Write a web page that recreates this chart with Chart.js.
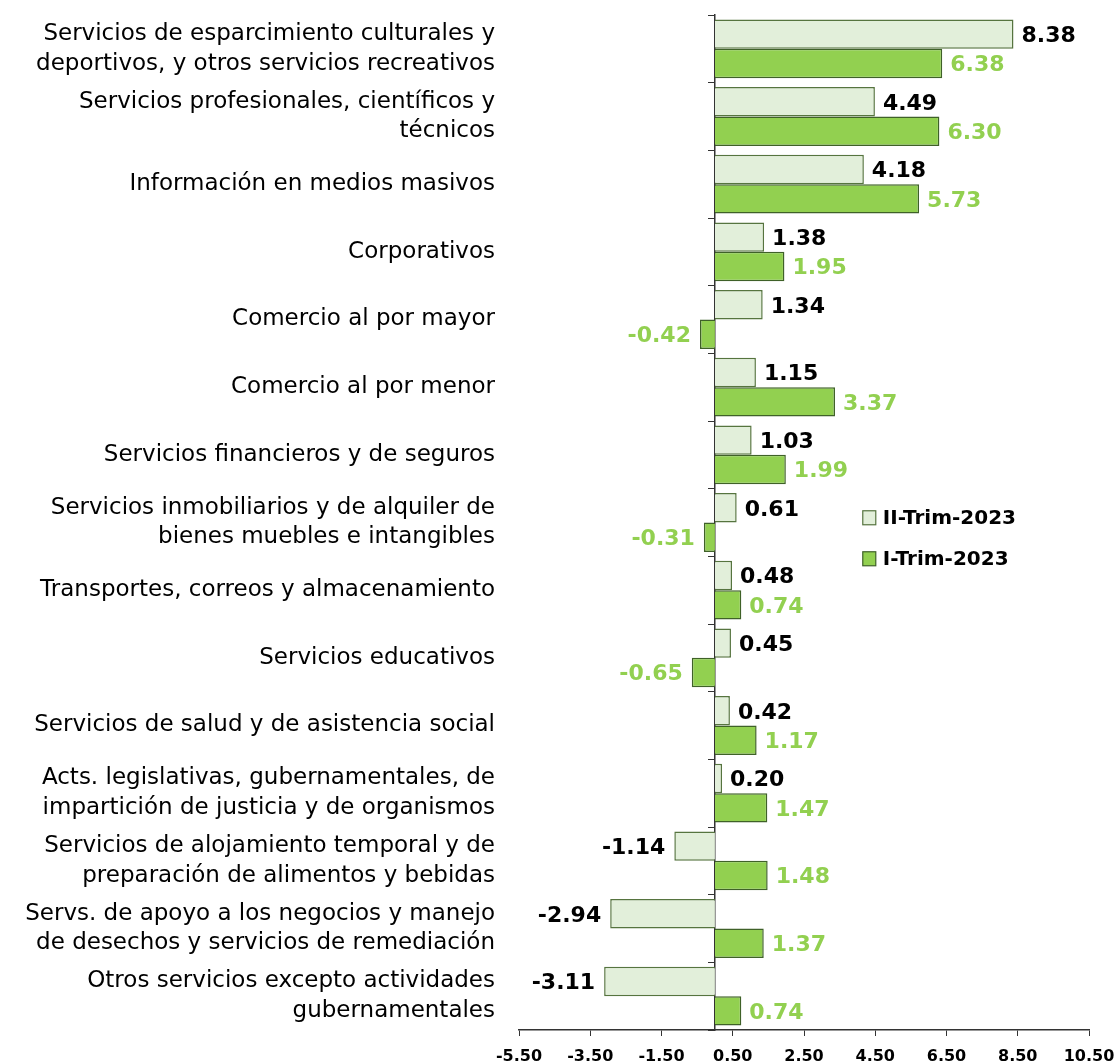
<!DOCTYPE html>
<html>
<head>
<meta charset="utf-8">
<script src="https://cdn.jsdelivr.net/npm/chart.js@4/dist/chart.umd.min.js"></script>
<style>
  html, body { margin: 0; padding: 0; background: #fff; }
  #wrap { width: 1114px; height: 1064px; position: relative; }
</style>
</head>
<body>
<div id="wrap"><canvas id="barChart"></canvas></div>
<script>
// Categories (multi-line labels as in the original)
const categories = [
    ['Servicios de esparcimiento culturales y', 'deportivos, y otros servicios recreativos'],
    ['Servicios profesionales, científicos y', 'técnicos'],
    'Información en medios masivos',
    'Corporativos',
    'Comercio al por mayor',
    'Comercio al por menor',
    'Servicios financieros y de seguros',
    ['Servicios inmobiliarios y de alquiler de', 'bienes muebles e intangibles'],
    'Transportes, correos y almacenamiento',
    'Servicios educativos',
    'Servicios de salud y de asistencia social',
    ['Acts. legislativas, gubernamentales, de', 'impartición de justicia y de organismos'],
    ['Servicios de alojamiento temporal y de', 'preparación de alimentos y bebidas'],
    ['Servs. de apoyo a los negocios y manejo', 'de desechos y servicios de remediación'],
    ['Otros servicios excepto actividades', 'gubernamentales']
];

// Series values
const trim2Values = [8.38, 4.49, 4.18, 1.38, 1.34, 1.15, 1.03, 0.61, 0.48, 0.45, 0.42, 0.20, -1.14, -2.94, -3.11];
const trim1Values = [6.38, 6.30, 5.73, 1.95, -0.42, 3.37, 1.99, -0.31, 0.74, -0.65, 1.17, 1.47, 1.48, 1.37, 0.74];

// X axis ticks
const xMin = -5.5;
const xMax = 10.5;
const xStep = 2;

const FONT = '"DejaVu Sans", sans-serif';

// Value labels at the end of each bar
const valueLabels = {
    id: 'valueLabels',
    afterDatasetsDraw(chart) {
        const ctx = chart.ctx;
        ctx.save();
        ctx.font = 'bold 22px ' + FONT;
        ctx.textBaseline = 'middle';
        chart.data.datasets.forEach((ds, i) => {
            const meta = chart.getDatasetMeta(i);
            ctx.fillStyle = ds.labelColor;
            meta.data.forEach((bar, j) => {
                const v = ds.data[j];
                if (v >= 0) {
                    ctx.textAlign = 'left';
                    ctx.fillText(v.toFixed(2), bar.x + 8, bar.y + 2);
                } else {
                    ctx.textAlign = 'right';
                    ctx.fillText(v.toFixed(2), bar.x - 9, bar.y + 2);
                }
            });
        });
        ctx.restore();
    }
};

// Legend drawn inside the plot area
const innerLegend = {
    id: 'innerLegend',
    afterDraw(chart) {
        const ctx = chart.ctx;
        const x = chart.scales.x.getPixelForValue(4.15);
        const y0 = chart.scales.y.getPixelForValue(6.93);
        ctx.save();
        ctx.font = 'bold 20px ' + FONT;
        ctx.textBaseline = 'middle';
        ctx.textAlign = 'left';
        chart.data.datasets.forEach((ds, i) => {
            const y = y0 + i * 41;
            ctx.fillStyle = ds.backgroundColor;
            ctx.strokeStyle = ds.borderColor;
            ctx.lineWidth = 1.2;
            ctx.fillRect(x, y - 7, 13, 14);
            ctx.strokeRect(x, y - 7, 13, 14);
            ctx.fillStyle = '#000';
            ctx.fillText(ds.label, x + 20, y + 1);
        });
        ctx.restore();
    }
};

function renderChart() {
    const ctx = document.getElementById('barChart');
    new Chart(ctx, {
        type: 'bar',
        data: {
            labels: categories,
            datasets: [
                {
                    label: 'II-Trim-2023',
                    data: trim2Values,
                    backgroundColor: '#e2efda',
                    borderColor: '#56743f',
                    borderWidth: 1.5,
                    labelColor: '#000000',
                    categoryPercentage: 0.87,
                    barPercentage: 1.0
                },
                {
                    label: 'I-Trim-2023',
                    data: trim1Values,
                    backgroundColor: '#92d050',
                    borderColor: '#3f6128',
                    borderWidth: 1.5,
                    labelColor: '#92d050',
                    categoryPercentage: 0.87,
                    barPercentage: 1.0
                }
            ]
        },
        options: {
            indexAxis: 'y',
            responsive: true,
            maintainAspectRatio: false,
            animation: false,
            layout: { padding: { top: 15, right: 25, left: 0, bottom: 0 } },
            plugins: {
                legend: { display: false },
                tooltip: { enabled: false }
            },
            scales: {
                x: {
                    min: xMin,
                    max: xMax,
                    grid: { drawOnChartArea: false, drawTicks: true, tickLength: 6, color: '#333' },
                    border: { display: true, color: '#333', width: 1.5 },
                    ticks: {
                        stepSize: xStep,
                        color: '#000',
                        padding: 11,
                        font: { family: FONT, size: 16, weight: 'bold' },
                        callback: v => Number(v).toFixed(2)
                    },
                    afterBuildTicks: s => {
                        s.ticks = [];
                        for (let v = xMin; v <= xMax + 1e-9; v += xStep) s.ticks.push({ value: v });
                    },
                    afterFit: s => {
                        s.height = 34;
                        s.paddingLeft = 0;
                        s.paddingRight = 0;
                    }
                },
                y: {
                    grid: { display: false, drawTicks: false },
                    border: { display: false },
                    ticks: {
                        color: '#000',
                        padding: 24,
                        font: { family: FONT, size: 23, lineHeight: 1.3 }
                    },
                    afterFit: s => {
                        s.width = 519;
                        s.paddingTop = 0;
                        s.paddingBottom = 0;
                    }
                },
                yZero: {
                    type: 'category',
                    axis: 'y',
                    position: { x: 0 },
                    offset: true,
                    grid: { drawOnChartArea: false, offset: true, tickLength: 6, color: '#333' },
                    border: { display: true, color: '#333', width: 1.5 },
                    ticks: { display: false },
                    afterFit: s => {
                        s.paddingTop = 0;
                        s.paddingBottom = 0;
                    }
                }
            }
        },
        plugins: [valueLabels, innerLegend]
    });
}

document.addEventListener('DOMContentLoaded', renderChart);
</script>
</body>
</html>
